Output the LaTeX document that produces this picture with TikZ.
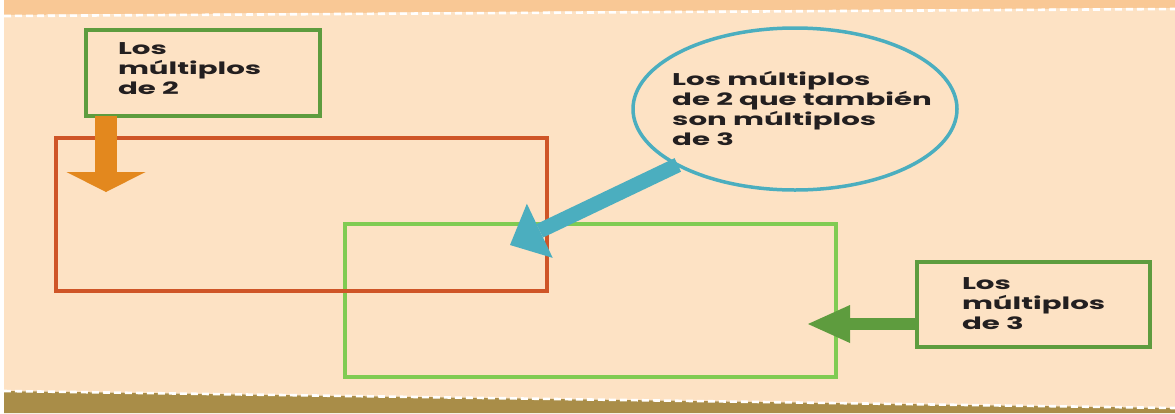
\documentclass[tikz,border=0pt]{standalone}
\usepackage{fontspec}
\setmainfont{Poppins}
\usetikzlibrary{calc,positioning,shapes.geometric,arrows.meta}
\definecolor{peach}{HTML}{FDE2C4}
\definecolor{topband}{HTML}{F9C895}
\definecolor{soil}{HTML}{A98D48}
\definecolor{boxgreen}{HTML}{5E9C3E}
\definecolor{lightgreen}{HTML}{80CB52}
\definecolor{redorange}{HTML}{CF5527}
\definecolor{amber}{HTML}{E3881E}
\definecolor{teal}{HTML}{4BAEBF}
\definecolor{ink}{HTML}{231F20}

\begin{document}
\begin{tikzpicture}[
    x=1pt, y=-1pt,
    every node/.style={
        inner sep=0pt,
        outer sep=0pt,
    },
    lbl/.style={
        font=\fontsize{17}{20}\selectfont\bfseries,
        text=ink,
        align=left,
        xscale=1.72,
        transform shape,
    },
    labelbox/.style={
        draw=boxgreen,
        line width=3.5pt,
        anchor=north west,
    },
    setbox/.style={
        draw=#1,
        line width=3.5pt,
        anchor=north west,
    },
    dashline/.style={
        white,
        line width=2.6pt,
        dash pattern=on 7pt off 4pt,
    }
  ]
  \useasboundingbox (0,0) rectangle (1175,413);
  % paper
  \fill[topband] (4,0) -- (1175,0) -- (1175,8) -- (4,15) -- cycle;
  \fill[peach] (4,15) -- (1175,8) -- (1175,408) -- (4,391) -- cycle;
  \fill[soil] (4,391) -- (1175,408) -- (1175,413) -- (4,413) -- cycle;
  \draw[dashline] (4,16) -- (1175,9);
  \draw[dashline] (4,391) -- (1175,408);

  % the two sets
  \node[setbox=lightgreen, minimum width=491, minimum height=153] (set3) at (345,224) {};
  \node[setbox=redorange, minimum width=491, minimum height=153] (set2) at (56,138) {};

  % labels
  \node[labelbox, minimum width=234, minimum height=86] (box2) at (86,30) {};
  \node[lbl, anchor=north west] (txt2) at ([shift={(32,13)}]box2.north west) {Los\\múltiplos\\de 2};

  \node[labelbox, minimum width=233, minimum height=85] (box3) at (917,262) {};
  \node[lbl, anchor=north west] (txt3) at ([shift={(45,16)}]box3.north west) {Los\\múltiplos\\de 3};

  \node[ellipse, draw=teal, line width=3.5pt, minimum width=324, minimum height=162] (bubble) at (795,109) {};
  \node[lbl] (txtB) at ([shift={(7,0)}]bubble.center) {Los múltiplos\\de 2 que también\\son múltiplos\\de 3};

  % arrows
  \coordinate (tip2) at (106,192);
  \coordinate (tip3) at (808,324);
  \coordinate (tipB) at (510,245);
  \draw[amber, line width=22pt, -{Triangle[length=20pt,width=79pt,line width=0pt]}]
    (tip2 |- box2.south) -- (tip2);
  \draw[boxgreen, line width=12pt, -{Triangle[length=42pt,width=38pt,line width=0pt]}]
    (box3.west |- tip3) -- (tip3);
  \draw[teal, line width=15pt, -{Triangle[length=33pt,width=60pt,line width=0pt]}]
    (bubble) -- (tipB);
\end{tikzpicture}
\end{document}
